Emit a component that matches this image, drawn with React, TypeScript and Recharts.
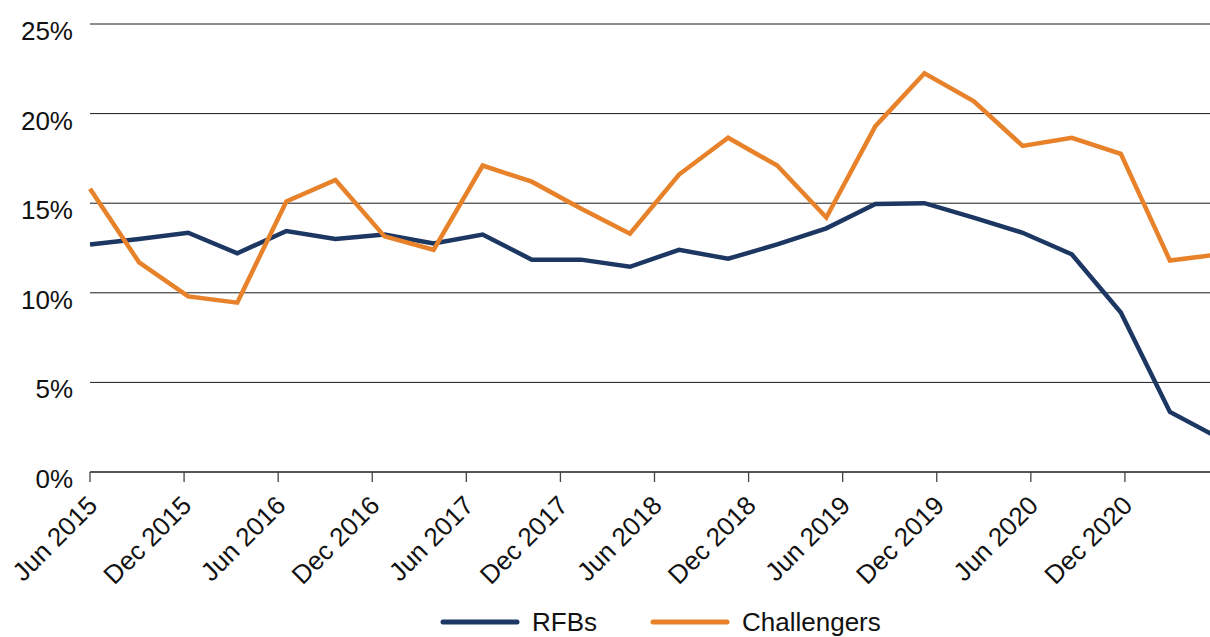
import React from 'react';
import { LineChart, Line, XAxis, YAxis, CartesianGrid, Legend } from 'recharts';

// Quarterly observations, Jun 2015 - Mar 2021
const quarters = [
  'Jun 2015', 'Sep 2015', 'Dec 2015', 'Mar 2016',
  'Jun 2016', 'Sep 2016', 'Dec 2016', 'Mar 2017',
  'Jun 2017', 'Sep 2017', 'Dec 2017', 'Mar 2018',
  'Jun 2018', 'Sep 2018', 'Dec 2018', 'Mar 2019',
  'Jun 2019', 'Sep 2019', 'Dec 2019', 'Mar 2020',
  'Jun 2020', 'Sep 2020', 'Dec 2020', 'Mar 2021',
];

const rfbs = [
  12.7, 13.0, 13.35, 12.2,
  13.45, 13.0, 13.25, 12.75,
  13.25, 11.85, 11.85, 11.45,
  12.4, 11.9, 12.7, 13.6,
  14.95, 15.0, 14.2, 13.35,
  12.15, 8.9, 3.35, 1.9,
];

const challengers = [
  15.8, 11.7, 9.8, 9.45,
  15.1, 16.3, 13.15, 12.4,
  17.1, 16.2, 14.7, 13.3,
  16.6, 18.65, 17.1, 14.2,
  19.3, 22.25, 20.7, 18.2,
  18.65, 17.75, 11.8, 12.15,
];

const tickLabels = [
  'Jun 2015', 'Dec 2015', 'Jun 2016', 'Dec 2016', 'Jun 2017', 'Dec 2017',
  'Jun 2018', 'Dec 2018', 'Jun 2019', 'Dec 2019', 'Jun 2020', 'Dec 2020',
];

const yTicks = [0, 5, 10, 15, 20, 25];

const seriesNames = ['RFBs', 'Challengers'];

const NAVY = '#1d3763';
const ORANGE = '#e8822a';
const FONT = '"Liberation Sans", Arial, Helvetica, sans-serif';

const data = quarters.map((q, i) => ({
  i,
  quarter: q,
  rfbs: rfbs[i],
  challengers: challengers[i],
}));

// the axis is split into 12 equal steps across the 23 quarter span
const lastIdx = quarters.length - 1;
const xTicks = tickLabels.map((_, k) => (k * lastIdx) / tickLabels.length);

const XTick = ({ x, y, index }: any) => {
  const ax = 9;
  const ay = 25;
  return (
    <g transform={`translate(${x},${y})`}>
      <text
        x={ax}
        y={ay}
        textAnchor="end"
        fontSize={26}
        fontFamily={FONT}
        fill="#111"
        transform={`rotate(-45, ${ax}, ${ay})`}
      >
        {tickLabels[index]}
      </text>
    </g>
  );
};

const YTick = ({ y, payload }: any) => (
  <text x={73} y={y + 16} textAnchor="end" fontSize={26} fontFamily={FONT} fill="#111">
    {`${payload.value}%`}
  </text>
);

const LegendContent = ({ payload }: any) => {
  const items = [...(payload || [])].sort(
    (a: any, b: any) => seriesNames.indexOf(a.value) - seriesNames.indexOf(b.value)
  );
  return (
    <div style={{ display: 'flex', alignItems: 'center', height: 30, fontFamily: FONT, fontSize: 26, color: '#111' }}>
      {items.map((entry: any, idx: number) => (
        <div key={entry.value} style={{ display: 'flex', alignItems: 'center', marginLeft: idx === 0 ? 0 : 53 }}>
          <svg width={80} height={8}>
            <line x1={3} y1={4} x2={77} y2={4} stroke={entry.color} strokeWidth={5} strokeLinecap="round" />
          </svg>
          <span style={{ marginLeft: 12, lineHeight: '30px' }}>{entry.value}</span>
        </div>
      ))}
    </div>
  );
};

export default function App() {
  return (
    <div style={{ position: 'fixed', left: 0, top: 0, width: 1210, height: 637, overflow: 'hidden', background: '#fff' }}>
      <LineChart
        width={1230}
        height={637}
        data={data}
        margin={{ top: 24, right: 11, left: 0, bottom: 0 }}
      >
        <CartesianGrid vertical={false} stroke="#1a1a1a" strokeWidth={1} />
        <XAxis
          dataKey="i"
          type="number"
          domain={[0, lastIdx]}
          ticks={xTicks}
          interval={0}
          height={135}
          tick={<XTick />}
          tickSize={10}
          tickMargin={0}
          stroke="#444"
          strokeWidth={1.3}
        />
        <YAxis
          width={90}
          domain={[0, 25]}
          ticks={yTicks}
          interval={0}
          axisLine={false}
          tickLine={false}
          tick={<YTick />}
        />
        <Legend
          verticalAlign="bottom"
          content={<LegendContent />}
          wrapperStyle={{ left: 440, width: 480 }}
        />
        <Line
          type="linear"
          dataKey="rfbs"
          name="RFBs"
          stroke={NAVY}
          strokeWidth={4.5}
          dot={false}
          isAnimationActive={false}
        />
        <Line
          type="linear"
          dataKey="challengers"
          name="Challengers"
          stroke={ORANGE}
          strokeWidth={4.5}
          dot={false}
          isAnimationActive={false}
        />
      </LineChart>
    </div>
  );
}
